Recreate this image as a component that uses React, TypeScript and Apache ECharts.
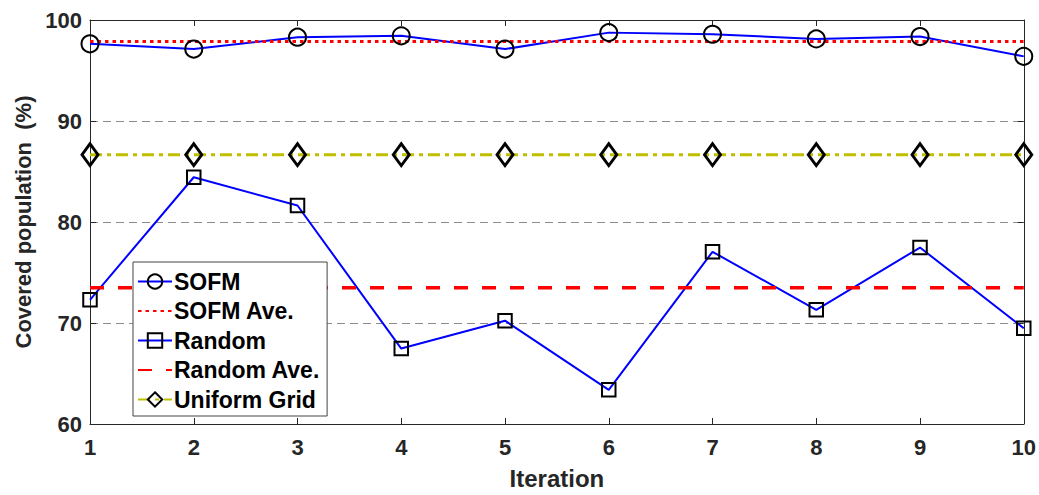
import React, { useEffect, useRef } from "react";
import * as echarts from "echarts";

const iterations = [1, 2, 3, 4, 5, 6, 7, 8, 9, 10];
const sofm = [97.64, 97.12, 98.3, 98.43, 97.12, 98.75, 98.59, 98.13, 98.36, 96.4];
const sofmAve = [97.87, 97.87, 97.87, 97.87, 97.87, 97.87, 97.87, 97.87, 97.87, 97.87];
const random = [72.29, 84.43, 81.63, 67.47, 70.23, 63.38, 77.05, 71.31, 77.47, 69.48];
const randomAve = [73.5, 73.5, 73.5, 73.5, 73.5, 73.5, 73.5, 73.5, 73.5, 73.5];
const uniformGrid = [86.67, 86.67, 86.67, 86.67, 86.67, 86.67, 86.67, 86.67, 86.67, 86.67];
const yTicks = [60, 70, 80, 90, 100];
const xTicks = iterations;

const pairs = (ys: number[]) => iterations.map((x, i) => [x, ys[i]]);

const FONT = "'Liberation Sans', Arial, sans-serif";
const CLEAR = "rgba(0,0,0,0)";

export default function App() {
  const ref = useRef<HTMLDivElement>(null);
  useEffect(() => {
    document.body.style.margin = "0";
    const chart = echarts.init(ref.current!, null, { renderer: "svg" });
    const axisLabel = { color: "#262626", fontWeight: "bold", fontSize: 22, fontFamily: FONT };
    const axisLine = { show: true, lineStyle: { color: "#262626", width: 1 } };
    const axisTick = { show: true, inside: true, length: 6, lineStyle: { color: "#262626" } };
    const option: any = {
      animation: false,
      backgroundColor: "#ffffff",
      grid: { left: 90, right: 12, top: 20, bottom: 68 },
      legend: {
        orient: "vertical",
        left: 133,
        top: 262,
        itemWidth: 34,
        itemHeight: 18,
        itemGap: 6.5,
        padding: [8, 7, 5, 4],
        backgroundColor: "#ffffff",
        borderColor: "#444444",
        borderWidth: 1,
        borderRadius: 0,
        textStyle: { color: "#000", fontWeight: "bold", fontSize: 23, fontFamily: FONT, padding: [0, 0, 0, -3] },
        data: ["SOFM", "SOFM Ave.", "Random", "Random Ave.", "Uniform Grid"],
      },
      xAxis: [
        {
          type: "value",
          min: xTicks[0],
          max: xTicks[xTicks.length - 1],
          interval: 1,
          name: "Iteration",
          nameLocation: "middle",
          nameGap: 42,
          nameTextStyle: { color: "#262626", fontWeight: "bold", fontSize: 24, fontFamily: FONT },
          axisLine,
          axisTick,
          axisLabel: { ...axisLabel, margin: 12 },
          splitLine: { show: false },
        },
        {
          type: "value",
          position: "top",
          min: xTicks[0],
          max: xTicks[xTicks.length - 1],
          interval: 1,
          axisLine,
          axisTick,
          axisLabel: { show: false },
          splitLine: { show: false },
        },
      ],
      yAxis: [
        {
          type: "value",
          min: yTicks[0],
          max: yTicks[yTicks.length - 1],
          interval: 10,
          name: "Covered population  (%)",
          nameLocation: "middle",
          nameGap: 54,
          nameTextStyle: { color: "#262626", fontWeight: "bold", fontSize: 22, fontFamily: FONT },
          axisLine,
          axisTick,
          axisLabel: { ...axisLabel, margin: 8 },
          splitLine: {
            show: true,
            showMinLine: false,
            showMaxLine: false,
            lineStyle: { color: "#8c8c8c", width: 1, type: [8, 5] },
          },
        },
        {
          type: "value",
          position: "right",
          min: yTicks[0],
          max: yTicks[yTicks.length - 1],
          interval: 10,
          axisLine,
          axisTick,
          axisLabel: { show: false },
          splitLine: { show: false },
        },
      ],
      series: [
        {
          name: "SOFM",
          type: "line",
          data: pairs(sofm),
          clip: false,
          symbol: "circle",
          symbolSize: 17,
          lineStyle: { color: "#0000ff", width: 2 },
          itemStyle: { color: CLEAR, borderColor: "#000", borderWidth: 2 },
        },
        {
          name: "SOFM Ave.",
          type: "line",
          data: pairs(sofmAve),
          clip: false,
          symbol: "none",
          lineStyle: { color: "#ff0000", width: 3, type: [3.5, 4] },
          itemStyle: { color: CLEAR, borderWidth: 0 },
        },
        {
          name: "Random",
          type: "line",
          data: pairs(random),
          clip: false,
          symbol: "rect",
          symbolSize: 13.5,
          lineStyle: { color: "#0000ff", width: 2 },
          itemStyle: { color: CLEAR, borderColor: "#000", borderWidth: 2 },
        },
        {
          name: "Random Ave.",
          type: "line",
          data: pairs(randomAve),
          clip: false,
          symbol: "none",
          lineStyle: { color: "#ff0000", width: 3.5, type: [14, 14] },
          itemStyle: { color: CLEAR, borderWidth: 0 },
        },
        {
          name: "Uniform Grid",
          type: "line",
          data: pairs(uniformGrid),
          clip: false,
          symbol: "diamond",
          symbolSize: [16, 22],
          lineStyle: { color: "#bfbf00", width: 3, type: [12, 5, 4, 5] },
          itemStyle: { color: CLEAR, borderColor: "#000", borderWidth: 3 },
        },
      ],
    };
    chart.setOption(option);
    return () => chart.dispose();
  }, []);
  return <div ref={ref} style={{ width: 1039, height: 495, position: "absolute", left: 0, top: 0 }} />;
}
